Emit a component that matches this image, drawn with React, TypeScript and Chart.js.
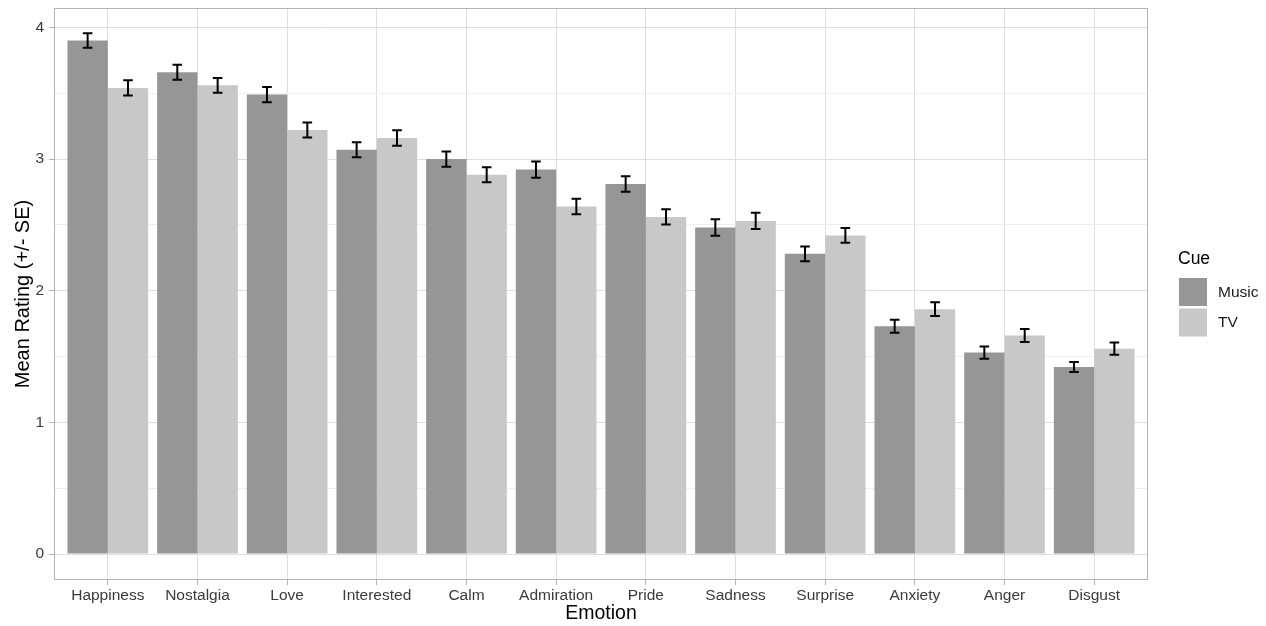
import React, { useEffect, useRef } from "react";
import { Chart, registerables } from "chart.js";

Chart.register(...registerables);

const CATEGORIES = ["Happiness", "Nostalgia", "Love", "Interested", "Calm", "Admiration", "Pride", "Sadness", "Surprise", "Anxiety", "Anger", "Disgust"];
const MUSIC = [3.9, 3.66, 3.49, 3.07, 3.0, 2.92, 2.81, 2.48, 2.28, 1.73, 1.53, 1.42];
const TV = [3.54, 3.56, 3.22, 3.16, 2.88, 2.64, 2.56, 2.53, 2.42, 1.86, 1.66, 1.56];
const MUSIC_SE = [0.055, 0.057, 0.058, 0.057, 0.058, 0.062, 0.059, 0.063, 0.056, 0.049, 0.046, 0.038];
const TV_SE = [0.058, 0.056, 0.057, 0.058, 0.057, 0.059, 0.058, 0.062, 0.056, 0.053, 0.049, 0.047];
const Y_TICKS = [0, 0.5, 1, 1.5, 2, 2.5, 3, 3.5, 4];
const SERIES = ["Music", "TV"];
const COLORS = ["#969696", "#c8c8c8"];

const FONT = "'Liberation Sans', Arial, Helvetica, sans-serif";

const errorBars = {
  id: "errorBars",
  afterDatasetsDraw(chart: any) {
    const ctx = chart.ctx;
    const y = chart.scales.y;
    ctx.save();
    ctx.strokeStyle = "#000";
    ctx.lineWidth = 2;
    chart.data.datasets.forEach((ds: any, di: number) => {
      const meta = chart.getDatasetMeta(di);
      meta.data.forEach((bar: any, i: number) => {
        const v = ds.data[i].y;
        const se = ds.errors[i];
        const top = y.getPixelForValue(v + se);
        const bot = y.getPixelForValue(v - se);
        const cx = bar.x;
        const hw = 4.8;
        ctx.beginPath();
        ctx.moveTo(cx, top);
        ctx.lineTo(cx, bot);
        ctx.moveTo(cx - hw, top);
        ctx.lineTo(cx + hw, top);
        ctx.moveTo(cx - hw, bot);
        ctx.lineTo(cx + hw, bot);
        ctx.stroke();
      });
    });
    ctx.restore();
  },
};

const panelAndLegend = {
  id: "panelAndLegend",
  afterDraw(chart: any) {
    const ctx = chart.ctx;
    const a = chart.chartArea;
    ctx.save();
    ctx.strokeStyle = "#b3b3b3";
    ctx.lineWidth = 1;
    const l = Math.round(a.left) + 0.5;
    const t = Math.round(a.top) + 0.5;
    const r = Math.round(a.right) - 0.5;
    const b = Math.round(a.bottom) - 0.5;
    ctx.strokeRect(l, t, r - l, b - t);

    // legend
    ctx.fillStyle = "#000";
    ctx.textAlign = "left";
    ctx.textBaseline = "middle";
    ctx.font = `17.5px ${FONT}`;
    ctx.fillText("Cue", 1178, 259);
    ctx.font = `15.5px ${FONT}`;
    SERIES.forEach((s, i) => {
      const ky = 278 + i * 30.5;
      ctx.fillStyle = COLORS[i];
      ctx.fillRect(1179, ky, 28, 28);
      ctx.fillStyle = "#1a1a1a";
      ctx.fillText(s, 1218, ky + 14.5);
    });
    ctx.restore();
  },
};

export default function App() {
  const ref = useRef<HTMLCanvasElement | null>(null);
  useEffect(() => {
    if (!ref.current) return;
    const chart = new Chart(ref.current, {
      type: "bar",
      data: {
        datasets: [
          {
            label: SERIES[0],
            data: MUSIC.map((v, i) => ({ x: i, y: v })),
            backgroundColor: COLORS[0],
            errors: MUSIC_SE,
            categoryPercentage: 0.9,
            barPercentage: 1,
          } as any,
          {
            label: SERIES[1],
            data: TV.map((v, i) => ({ x: i, y: v })),
            backgroundColor: COLORS[1],
            errors: TV_SE,
            categoryPercentage: 0.9,
            barPercentage: 1,
          } as any,
        ],
      },
      options: {
        animation: false,
        responsive: false,
        devicePixelRatio: 1,
        layout: { padding: { left: 0, top: 8, right: 118, bottom: 0 } },
        plugins: { legend: { display: false }, tooltip: { enabled: false } },
        scales: {
          x: {
            type: "linear",
            min: -0.6,
            max: 11.6,
            offset: false,
            afterBuildTicks: (s: any) => {
              s.ticks = CATEGORIES.map((_, i) => ({ value: i }));
            },
            afterFit: (s: any) => {
              s.height = 46;
              s.paddingLeft = 0;
              s.paddingRight = 0;
            },
            grid: {
              offset: false,
              color: "#dedede",
              lineWidth: 1,
              drawTicks: true,
              tickLength: 5,
              tickColor: "#b3b3b3",
            },
            border: { display: false },
            ticks: {
              autoSkip: false,
              maxRotation: 0,
              minRotation: 0,
              padding: 1,
              color: "#3a3a3a",
              font: { family: FONT, size: 15.5 },
              callback: (v: any) => CATEGORIES[v] ?? "",
            },
            title: {
              display: true,
              text: "Emotion",
              color: "#000",
              font: { family: FONT, size: 19.5 },
              padding: { top: 0, bottom: 1 },
            },
          },
          y: {
            type: "linear",
            min: -0.1975,
            max: 4.1475,
            afterBuildTicks: (s: any) => {
              s.ticks = Y_TICKS.map((v) => ({ value: v }));
            },
            afterFit: (s: any) => {
              s.width = 54;
              s.paddingTop = 0;
              s.paddingBottom = 0;
            },
            grid: {
              color: (c: any) => (c.tick && Number.isInteger(c.tick.value) ? "#dedede" : "#efefef"),
              lineWidth: 1,
              drawTicks: true,
              tickLength: 5,
              tickColor: (c: any) => (c.tick && Number.isInteger(c.tick.value) ? "#b3b3b3" : "rgba(0,0,0,0)"),
            },
            border: { display: false },
            ticks: {
              padding: 5,
              color: "#3a3a3a",
              font: { family: FONT, size: 15.5 },
              callback: (v: any) => (Number.isInteger(v) ? String(v) : ""),
            },
            title: {
              display: true,
              text: "Mean Rating (+/- SE)",
              color: "#000",
              font: { family: FONT, size: 20 },
              padding: { top: 11, bottom: 0 },
            },
          },
        },
      } as any,
      plugins: [errorBars, panelAndLegend],
    });
    return () => chart.destroy();
  }, []);
  return (
    <div style={{ position: "fixed", left: 0, top: 0, width: 1266, height: 626, background: "#fff" }}>
      <canvas ref={ref} width={1266} height={626} style={{ display: "block", width: 1266, height: 626 }} />
    </div>
  );
}
